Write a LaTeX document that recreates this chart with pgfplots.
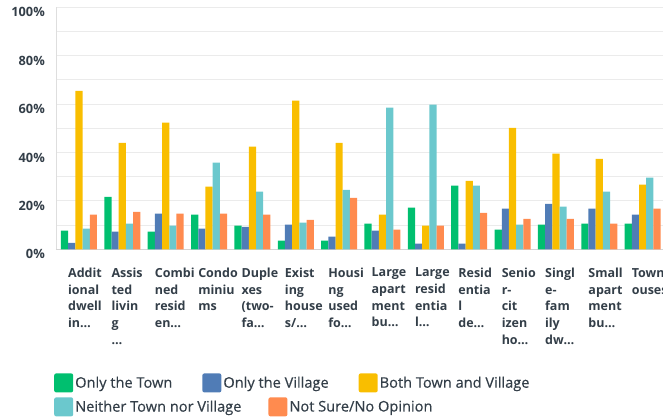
\documentclass[border=0pt]{standalone}
\usepackage{pgfplots}
\usepackage{pgfplotstable}
\pgfplotsset{compat=1.18}
\usepackage{fontspec}
\setmainfont{Open Sans}
\newfontfamily\legfont[FakeBold=0.4]{Open Sans}
\definecolor{cGreen}{HTML}{00BF6F}
\definecolor{cBlue}{HTML}{507CB6}
\definecolor{cYellow}{HTML}{F9BE00}
\definecolor{cTeal}{HTML}{6BC8CD}
\definecolor{cOrange}{HTML}{FF8B4F}
\definecolor{txt}{HTML}{333E48}
\pgfplotstableread{
x g b y t o
0 7.7 2.7 65.5 8.5 14.3
1 21.7 7.3 44.0 10.6 15.5
2 7.3 14.7 52.3 9.8 14.7
3 14.3 8.5 25.9 35.8 14.7
4 9.8 9.3 42.4 23.8 14.3
5 3.6 10.2 61.4 11.0 12.2
6 3.6 5.2 44.0 24.6 21.3
7 10.6 7.7 14.3 58.5 8.1
8 17.2 2.3 9.8 59.8 9.8
9 26.3 2.3 28.3 26.3 15.1
10 8.1 16.8 50.2 10.2 12.6
11 10.2 18.8 39.5 17.6 12.6
12 10.6 16.8 37.4 23.8 10.6
13 10.6 14.3 26.7 29.6 16.8
}\data
\pgfplotsset{
  sqlegend/.style={legend image code/.code={\fill[##1, draw=none, rounded corners=2pt] (0pt,-9.5pt) rectangle (19pt,9.5pt);}},
  base/.style={
    scale only axis, width=607pt, height=242pt,
    xmin=-0.53, xmax=13.47, ymin=0, ymax=100,
  },
}
\begin{document}
\begin{tikzpicture}
\useasboundingbox (-56pt,-167.7pt) rectangle (607pt,249.3pt);
\begin{axis}[base,
  ybar=0pt, bar width=7.2pt,
  every axis plot post/.append style={sqlegend, draw=none},
  axis x line*=bottom, axis y line*=left,
  x axis line style={draw=black!17, line width=1.6pt},
  y axis line style={draw=black!13, line width=0.8pt},
  major tick length=0pt, minor tick length=0pt,
  ytick={0,20,...,100}, minor ytick={10,30,...,90},
  yticklabels={0\%,20\%,40\%,60\%,80\%,100\%},
  ymajorgrids, yminorgrids,
  major grid style={draw=black!8, line width=1pt},
  minor grid style={draw=black!8, line width=1pt},
  yticklabel style={font=\fontsize{12.8}{14}\selectfont\bfseries, text=txt, anchor=east, inner sep=0pt, xshift=-11pt, yshift=-5pt},
  xtick=data,
  xticklabels={{Addit\\ional\\dwell\\in…},{Assis\\ted\\livin\\g\\…},{Combi\\ned\\resid\\en…},{Condo\\miniu\\ms},{Duple\\xes\\(two-\\fa…},{Exist\\ing\\house\\s/…},{Housi\\ng\\used\\fo…},{Large\\apart\\ment\\bu…},{Large\\resid\\entia\\l…},{Resid\\entia\\l\\de…},{Senio\\r-\\cit\\izen\\ho…},{Singl\\e-\\fam\\ily\\dw…},{Small\\apart\\ment\\bu…},{Townh\\ouses}},
  xticklabel style={font=\fontsize{12.5}{16.7}\selectfont\bfseries, text=txt, align=left, anchor=north west, inner sep=0pt, xshift=-11pt, yshift=-18.4pt},
  legend columns=-1,
  legend style={at={(-0.0033,-0.512)}, anchor=north west, draw=none, fill=none, inner sep=0pt,
    font=\fontsize{14.6}{16}\selectfont\legfont, text=txt,
    /tikz/every even column/.append style={column sep=28pt}},
  legend cell align=left,
]
\addplot[fill=cGreen] table[x=x,y=g]{\data};
\addplot[fill=cBlue] table[x=x,y=b]{\data};
\addplot[fill=cYellow] table[x=x,y=y]{\data};
\addplot[fill=cTeal] table[x=x,y=t]{\data};
\addplot[fill=cOrange] table[x=x,y=o]{\data};
\legend{Only the Town,Only the Village,Both Town and Village}
\end{axis}
\begin{axis}[base, hide axis,
  legend columns=-1,
  legend style={at={(-0.0033,-0.611)}, anchor=north west, draw=none, fill=none, inner sep=0pt,
    font=\fontsize{14.6}{16}\selectfont\legfont, text=txt,
    /tikz/every even column/.append style={column sep=25pt}},
  legend cell align=left,
]
\addlegendimage{sqlegend, fill=cTeal}
\addlegendentry{Neither Town nor Village}
\addlegendimage{sqlegend, fill=cOrange}
\addlegendentry{Not Sure/No Opinion}
\end{axis}
\end{tikzpicture}
\end{document}
